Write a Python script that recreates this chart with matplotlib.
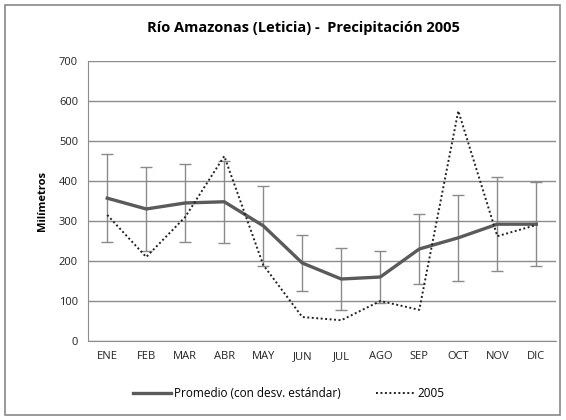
import matplotlib.pyplot as plt
from matplotlib.lines import Line2D
from matplotlib.patches import Rectangle

months = ["ENE", "FEB", "MAR", "ABR", "MAY", "JUN", "JUL", "AGO", "SEP", "OCT", "NOV", "DIC"]
promedio = [357, 330, 345, 348, 288, 195, 155, 160, 230, 258, 292, 292]
desv = [110, 105, 98, 103, 100, 70, 78, 65, 88, 108, 118, 105]
anio_2005 = [315, 210, 310, 462, 190, 60, 52, 100, 78, 575, 262, 290]

plt.rcParams["font.family"] = ["Open Sans", "DejaVu Sans"]

fig = plt.figure(figsize=(5.66, 4.2), dpi=100)
ax = fig.add_axes([0.155, 0.188, 0.827, 0.667])

x = range(len(months))
mean_color = "#5a5a5a"
dot_style = (0, (1, 1.3))
ax.errorbar(x, promedio, yerr=desv, color=mean_color, lw=2.4, ecolor="#8a8a8a",
            elinewidth=1, capsize=4, capthick=1, zorder=3)
ax.plot(x, anio_2005, color="#222222", lw=1.4, ls=dot_style, zorder=4)

ax.set_xlim(-0.5, len(months) - 0.5)
ax.set_ylim(0, 700)
ax.set_yticks(range(0, 701, 100))
ax.set_xticks(list(x))
ax.set_xticklabels(months)
ax.tick_params(axis="both", length=0, labelsize=8, colors="#222222", pad=7)
ax.grid(axis="y", color="#8c8c8c", lw=1)
ax.set_axisbelow(True)
for s in ["top", "right"]:
    ax.spines[s].set_visible(False)
for s in ["left", "bottom"]:
    ax.spines[s].set_color("#8c8c8c")
ax.set_ylabel("Milímetros", fontsize=8, fontweight="bold", labelpad=8)
fig.suptitle("Río Amazonas (Leticia) -  Precipitación 2005", x=0.536, y=0.95,
             fontsize=10.5, fontweight="bold")

handles = [Line2D([], [], color=mean_color, lw=2.4),
           Line2D([], [], color="#222222", lw=1.4, ls=dot_style)]
fig.legend(handles, ["Promedio (con desv. estándar)", "2005"], loc="center",
           bbox_to_anchor=(0.51, 0.063), ncol=2, frameon=False,
           fontsize=8.5, handlelength=3.2, handletextpad=0.3, columnspacing=3)

fig.patches.append(Rectangle((0.008, 0.012), 0.982, 0.976, transform=fig.transFigure,
                             fill=False, edgecolor="#888888", lw=1.2))
fig.savefig("out.png", dpi=100)
